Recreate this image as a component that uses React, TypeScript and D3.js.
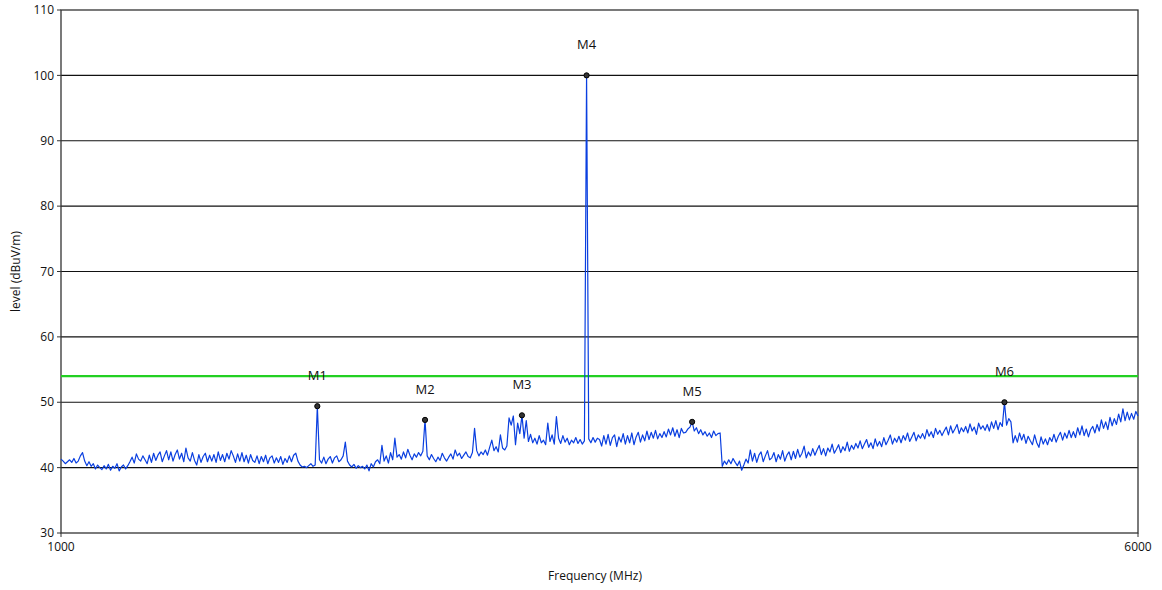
import React from "react";
import * as d3 from "d3";

const FREQ_START = 1000;
const FREQ_STEP = 10;
const levels: number[] = [
  // 1000
  41.3, 41.0, 40.6, 40.9, 41.2, 40.8, 41.4, 40.7, 41.0, 41.8,
  // 1100
  42.3, 41.0, 40.3, 40.9, 40.2, 40.6, 39.8, 40.4, 40.0, 39.7,
  // 1200
  40.3, 39.8, 40.5, 39.6, 40.2, 39.9, 40.6, 39.5, 40.1, 40.4,
  // 1300
  39.8, 40.3, 40.9, 41.6, 40.7, 42.1, 41.3, 41.0, 41.8, 41.2,
  // 1400
  40.6, 41.9, 40.8, 42.2, 41.1, 41.9, 42.4, 40.9, 41.8, 42.6,
  // 1500
  41.2, 42.4, 41.0, 42.0, 42.7, 41.3, 42.2, 40.9, 43.0, 41.5,
  // 1600
  41.0, 42.3, 41.1, 40.4, 42.0, 40.8, 41.7, 42.2, 40.9, 41.9,
  // 1700
  41.0, 42.0, 40.8, 42.4, 41.1, 42.0, 40.9, 42.2, 41.3, 42.6,
  // 1800
  41.8, 40.8, 42.1, 41.0, 42.3, 40.9, 41.9, 40.7, 42.0, 41.1,
  // 1900
  40.8, 41.8, 40.6, 41.7, 40.9, 41.9, 40.6, 41.5, 41.8, 40.7,
  // 2000
  41.5, 40.8, 41.7, 40.5, 41.4, 40.8, 41.8, 40.9, 41.9, 42.2,
  // 2100
  41.0, 40.4, 40.1, 40.2, 40.0, 40.3, 40.6, 40.2, 40.4, 49.4,
  // 2200
  41.2, 40.7, 41.6, 40.6, 41.3, 41.7, 40.7, 41.5, 41.8, 40.9,
  // 2300
  41.2, 41.8, 43.9, 41.0, 40.4, 40.1, 40.5, 39.9, 40.3, 40.0,
  // 2400
  40.2, 39.8, 40.4, 39.5, 40.6, 40.1, 40.9, 41.2, 40.6, 43.4,
  // 2500
  41.0, 41.8, 40.7, 42.3, 41.2, 44.5, 41.6, 42.0, 41.3, 42.4,
  // 2600
  41.5, 42.8, 41.9, 41.2, 42.1, 41.6, 42.3, 41.8, 42.5, 47.3,
  // 2700
  41.8, 41.2, 42.0, 41.4, 40.9, 41.6, 41.1, 42.2, 41.5, 41.0,
  // 2800
  41.6, 42.1, 41.3, 42.7, 41.8, 42.2, 41.4, 41.9, 42.4, 41.7,
  // 2900
  41.5, 42.3, 46.0, 42.6, 41.8, 42.4, 42.0, 42.7, 41.9, 43.1,
  // 3000
  44.2, 42.6, 43.2, 42.4, 45.0, 43.0, 42.7, 43.3, 47.6, 46.5,
  // 3100
  47.9, 43.5, 46.8, 45.2, 48.0, 44.5, 47.2, 44.0, 45.1, 43.8,
  // 3200
  44.5, 43.6, 44.9, 43.8, 44.2, 43.5, 46.8, 44.0, 45.0, 43.6,
  // 3300
  47.8, 44.5, 43.7, 44.9, 43.9, 44.5, 43.5, 44.2, 43.8, 44.6,
  // 3400
  43.7, 44.3, 43.6, 44.1, 100.0, 44.4, 43.8, 44.6, 43.9, 44.5,
  // 3500
  44.3, 43.3, 44.9, 43.6, 45.1, 43.4, 44.6, 45.0, 43.2, 44.7,
  // 3600
  43.9, 45.2, 43.6, 44.9, 43.8, 45.3, 43.5, 44.7, 45.4, 43.9,
  // 3700
  45.0, 44.1, 45.6, 44.3, 45.4, 44.5, 45.7, 44.4, 45.2, 44.6,
  // 3800
  45.5, 44.7, 45.9, 45.0, 46.1, 44.8, 45.8, 44.6, 46.0, 45.3,
  // 3900
  45.4, 45.9, 46.2, 47.0, 45.6, 46.1, 45.2, 45.8, 45.0, 45.5,
  // 4000
  44.8, 45.3, 44.6, 45.6, 44.9, 45.2, 45.3, 40.2, 41.0, 40.5,
  // 4100
  41.2, 40.6, 41.4, 40.8, 40.3, 41.0, 39.6, 40.4, 41.3, 40.7,
  // 4200
  42.7, 41.0, 42.2, 40.8, 41.9, 42.4, 40.9, 41.8, 42.6, 41.2,
  // 4300
  41.5, 42.3, 40.9, 42.0, 41.3, 42.6, 41.0, 41.9, 42.4, 41.2,
  // 4400
  42.5, 41.4, 42.8, 41.6, 42.2, 43.3, 41.5, 42.4, 41.8, 42.9,
  // 4500
  41.9, 42.7, 43.4, 42.0, 42.9, 41.8, 43.0, 42.4, 43.6, 42.2,
  // 4600
  42.8, 43.5, 42.3, 43.2, 42.6, 43.9, 42.5, 43.4, 42.8, 43.7,
  // 4700
  43.0, 44.1, 42.9, 43.6, 44.3, 43.1, 43.8, 42.9, 44.4, 43.3,
  // 4800
  44.0, 43.2, 44.6, 43.5, 44.2, 45.0, 43.6, 44.5, 43.9, 44.8,
  // 4900
  43.8, 44.9, 44.2, 45.3, 44.0, 44.7, 45.4, 44.1, 45.0, 44.5,
  // 5000
  45.2, 44.4, 45.8, 44.8, 45.5, 44.6, 46.0, 45.1, 45.7, 44.9,
  // 5100
  45.6, 46.2, 45.0, 46.4, 45.3, 45.9, 46.6, 45.2, 46.1, 45.5,
  // 5200
  46.3, 45.3, 46.7, 45.6, 46.2, 45.1, 46.8, 45.9, 46.4, 45.7,
  // 5300
  46.6, 45.6, 47.0, 46.0, 47.2, 45.8, 46.9, 46.3, 50.0, 46.5,
  // 5400
  47.5, 47.0, 43.8, 44.9, 43.9, 45.3, 44.2, 45.1, 43.7, 44.8,
  // 5500
  44.1, 43.5, 45.0, 43.8, 43.1, 44.7, 43.6, 44.4, 43.5, 44.6,
  // 5600
  44.0, 45.1, 43.9, 44.8, 45.4, 44.2, 45.3, 44.5, 45.7, 44.6,
  // 5700
  45.5, 44.6, 46.1, 45.0, 46.4, 44.9, 45.9, 44.7, 45.8, 46.3,
  // 5800
  45.3, 46.6, 45.6, 47.3, 46.0, 47.0, 45.8, 47.7, 46.4, 47.5,
  // 5900
  46.6, 48.2, 47.0, 49.0, 47.2, 48.5, 47.3, 48.3, 47.4, 48.6,
  // 6000
  47.9,
];

const markerNames = ["M1", "M2", "M3", "M4", "M5", "M6"];
const markerFreqs = [2190, 2690, 3140, 3440, 3930, 5380];
const markerLevels = [49.4, 47.3, 48.0, 100.0, 47.0, 50.0];

const limitLevel = 54;
const yTicks = [30, 40, 50, 60, 70, 80, 90, 100, 110];
const xTicks = [1000, 6000];

const W = 1162;
const H = 590;
const L = 61;
const R = 1138;
const T = 10;
const B = 533;

export default function App() {
  const x = d3.scaleLinear().domain([1000, 6000]).range([L, R]);
  const y = d3.scaleLinear().domain([30, 110]).range([B, T]);
  const pts = levels.map((v, i) => [FREQ_START + i * FREQ_STEP, v] as [number, number]);
  const line = d3
    .line<[number, number]>()
    .x((d) => x(d[0]))
    .y((d) => y(d[1]));
  const font = "'Open Sans', 'DejaVu Sans', sans-serif";

  return (
    <svg
      width={W}
      height={H}
      style={{ position: "absolute", left: 0, top: 0, background: "#fff" }}
      fontFamily={font}
    >
      {yTicks
        .filter((t) => t > 30 && t < 110)
        .map((t) => (
          <line key={"g" + t} x1={L} x2={R} y1={y(t)} y2={y(t)} stroke="#111" strokeWidth={1.2} />
        ))}
      <rect x={L} y={T} width={R - L} height={B - T} fill="none" stroke="#333" strokeWidth={1.3} />
      {yTicks.map((t) => (
        <g key={"y" + t}>
          <line x1={L - 4} x2={L} y1={y(t)} y2={y(t)} stroke="#333" strokeWidth={1} />
          <text x={L - 7} y={y(t)} dy="0.35em" textAnchor="end" fontSize={12} fill="#111">
            {t}
          </text>
        </g>
      ))}
      {xTicks.map((t) => (
        <g key={"x" + t}>
          <line x1={x(t)} x2={x(t)} y1={B} y2={B + 4} stroke="#333" strokeWidth={1} />
          <text x={x(t)} y={B + 18} textAnchor="middle" fontSize={12} fill="#111">
            {t}
          </text>
        </g>
      ))}
      <text
        transform={`translate(20,${(T + B) / 2}) rotate(-90)`}
        textAnchor="middle"
        fontSize={12}
        fill="#111"
      >
        level (dBuV/m)
      </text>
      <text x={595} y={580} textAnchor="middle" fontSize={12} fill="#111">
        Frequency (MHz)
      </text>
      <line x1={L} x2={R} y1={y(limitLevel)} y2={y(limitLevel)} stroke="#22d022" strokeWidth={2.2} />
      <path d={line(pts) || ""} fill="none" stroke="#0a3fe0" strokeWidth={1.2} strokeLinejoin="round" />
      {markerNames.map((n, i) => (
        <g key={n}>
          <circle cx={x(markerFreqs[i])} cy={y(markerLevels[i])} r={2.6} fill="#333" stroke="#000" strokeWidth={1} />
          <text
            x={x(markerFreqs[i])}
            y={y(markerLevels[i]) - 26}
            textAnchor="middle"
            fontSize={13}
            fill="#111"
          >
            {n}
          </text>
        </g>
      ))}
    </svg>
  );
}
